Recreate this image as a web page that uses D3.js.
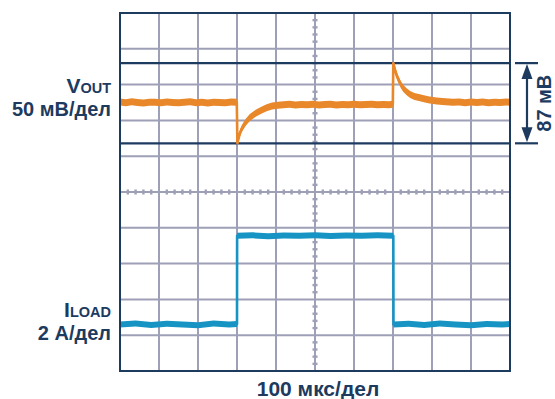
<!DOCTYPE html>
<html><head><meta charset="utf-8">
<script src="https://cdn.jsdelivr.net/npm/d3@7/dist/d3.min.js"></script>
<style>
html,body{margin:0;padding:0;background:#fff;}
svg{display:block;}
text{font-family:"Liberation Sans",Arial,sans-serif;font-weight:bold;fill:#1d3a5f;}
</style></head>
<body><svg id="c" width="555" height="399"></svg>
<script>
// ---- data ----
// time in µs (100 µs/div), VOUT deviation in mV (50 mV/div), ILOAD in A (2 A/div)
const voutTime = [0,15,30,45,60,75,90,105,120,135,150,165,180,195,210,225,240,255,270,285,299.5,
  301,304,308,312,316,322,328,333,340,348,355,365,376,390,405,419,435,450,465,480,495,510,525,540,555,570,585,600,615,630,645,660,675,690,699.5,
  700.8,703,706,710,714,720,726,735,744,755,769,790,812,835,854,870,885,900,915,930,945,960,975,990,1000];
const voutMv = [0.6,-0.4,0.9,0.1,-0.7,0.5,0.2,-0.3,0.8,0.0,-0.5,0.4,0.9,-0.2,0.3,-0.6,0.5,0.1,-0.4,0.6,0.2,
  -57,-50,-42,-37,-33,-28,-24,-21,-18,-15,-13,-10,-7.5,-5,-3.8,-3.3,-2.6,-3.6,-2.8,-3.3,-2.5,-3.5,-2.9,-2.4,-3.4,-2.7,-3.1,-2.5,-3.3,-2.8,-2.4,-3.2,-2.7,-3.0,-2.6,
  55,50,44,37,32,25,20,15,11,8.5,6.5,4,2,1,0.2,0.8,-0.2,0.6,0.1,0.7,-0.3,0.5,0.0,0.6,0.2];
const iloadTime = [0,40,80,120,160,200,240,280,300,300.3,340,380,420,460,500,540,580,620,660,700.8,701.2,740,780,820,860,900,940,980,1000];
const iloadA   = [0.0,0.05,-0.03,0.04,0.0,-0.04,0.05,0.0,0.02,4.95,4.98,4.93,4.97,4.95,4.99,4.94,4.97,4.95,4.98,4.96,0.0,0.04,-0.03,0.05,0.0,-0.04,0.03,0.0,0.02];
const cursorMv = [-57, 55];           // cursor lines at the VOUT extremes
const cursorLabel = "87 мВ";
const timeLabel = "100 мкс/дел";
const voutLabel = ["V","OUT","50 мВ/дел"];
const iloadLabel = ["I","LOAD","2 А/дел"];

// ---- layout ----
const L=120, T=13, W=390, H=358;
const nDivX=10, nDivY=10;
const navy="#1d3a5f", grid="#9da0b6", orange="#e8882a", blue="#1794c3";
const svg=d3.select("#c");

const x=d3.scaleLinear().domain([0,1000]).range([L,L+W]);
// VOUT: 0 mV sits 7.5 divisions above the bottom
const yV=d3.scaleLinear().domain([-7.5*50,2.5*50]).range([T+H,T]);
// ILOAD: 0 A sits 1.3 divisions above the bottom
const yI=d3.scaleLinear().domain([-1.3*2,8.7*2]).range([T+H,T]);
const gy=d3.scaleLinear().domain([0,nDivY]).range([T+H,T]);

// grid
const g=svg.append("g");
d3.range(1,nDivX).forEach(i=>{
  if(i===5) return;
  g.append("line").attr("x1",x(i*100)).attr("x2",x(i*100)).attr("y1",T).attr("y2",T+H)
    .attr("stroke",grid).attr("stroke-width",2);
});
d3.range(1,nDivY).forEach(j=>{
  if(j===5) return;
  g.append("line").attr("x1",L).attr("x2",L+W).attr("y1",gy(j)).attr("y2",gy(j))
    .attr("stroke",grid).attr("stroke-width",2);
});
// centre axes with minor ticks
g.append("line").attr("x1",x(500)).attr("x2",x(500)).attr("y1",T).attr("y2",T+H).attr("stroke",grid).attr("stroke-width",2);
g.append("line").attr("x1",L).attr("x2",L+W).attr("y1",gy(5)).attr("y2",gy(5)).attr("stroke",grid).attr("stroke-width",2);
d3.range(1,nDivY*5).forEach(k=>{
  if(k%5===0) return;
  g.append("rect").attr("x",x(500)-2.5).attr("y",gy(k/5)-1.2).attr("width",5).attr("height",2.4).attr("fill",grid);
});
d3.range(1,nDivX*5).forEach(k=>{
  if(k%5===0) return;
  g.append("rect").attr("x",x(k*20)-1.2).attr("y",gy(5)-2.5).attr("width",2.4).attr("height",5).attr("fill",grid);
});

// cursor lines
cursorMv.forEach(v=>{
  svg.append("line").attr("x1",L).attr("x2",L+W).attr("y1",yV(v)).attr("y2",yV(v))
    .attr("stroke",navy).attr("stroke-width",2.2);
  svg.append("line").attr("x1",L+W+5).attr("x2",L+W+28).attr("y1",yV(v)).attr("y2",yV(v))
    .attr("stroke",navy).attr("stroke-width",2.2);
});
// arrow
const ax=L+W+17, yTop=yV(d3.max(cursorMv)), yBot=yV(d3.min(cursorMv));
svg.append("line").attr("x1",ax).attr("x2",ax).attr("y1",yTop+10).attr("y2",yBot-10).attr("stroke",navy).attr("stroke-width",2.2);
svg.append("path").attr("d",`M${ax},${yTop+1}L${ax-5.5},${yTop+16}L${ax+5.5},${yTop+16}Z`).attr("fill",navy);
svg.append("path").attr("d",`M${ax},${yBot-1}L${ax-5.5},${yBot-16}L${ax+5.5},${yBot-16}Z`).attr("fill",navy);
svg.append("text").attr("transform",`translate(${L+W+41},${(yTop+yBot)/2}) rotate(-90)`)
  .attr("text-anchor","middle").style("font-size","20px").text(cursorLabel);

// traces: thin stroke + noise band
function trace(ts,vs,ys,col,half){
  const pts=ts.map((t,i)=>[t,vs[i]]);
  svg.append("path").datum(pts)
    .attr("d",d3.area().x(d=>x(d[0])).y0(d=>ys(d[1])-half).y1(d=>ys(d[1])+half))
    .attr("fill",col);
  svg.append("path").datum(pts)
    .attr("d",d3.line().x(d=>x(d[0])).y(d=>ys(d[1])))
    .attr("fill","none").attr("stroke",col).attr("stroke-width",2.6).attr("stroke-linejoin","round");
}
trace(iloadTime,iloadA,yI,blue,3);
trace(voutTime,voutMv,yV,orange,3.5);

// frame
svg.append("rect").attr("x",L).attr("y",T).attr("width",W).attr("height",H)
  .attr("fill","none").attr("stroke",navy).attr("stroke-width",2);

// labels
function chLabel(y1,y2,lab){
  const t=svg.append("text").attr("x",111).attr("y",y1).attr("text-anchor","end").style("font-size","21px");
  t.append("tspan").text(lab[0]);
  t.append("tspan").style("font-size","14.5px").text(lab[1]);
  svg.append("text").attr("x",111).attr("y",y2).attr("text-anchor","end").style("font-size","20px").text(lab[2]);
}
chLabel(93,116,voutLabel);
chLabel(317,340,iloadLabel);
svg.append("text").attr("x",x(500)+3).attr("y",396).attr("text-anchor","middle").style("font-size","21px").text(timeLabel);
</script></body></html>
